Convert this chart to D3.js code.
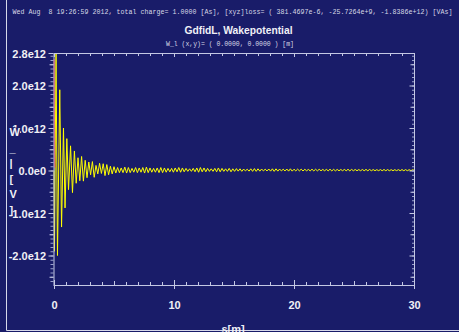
<!DOCTYPE html>
<html>
<head>
<meta charset="utf-8">
<script src="https://cdn.jsdelivr.net/npm/d3@7"></script>
<style>
  html, body { margin: 0; padding: 0; background: #191c69; }
  svg { display: block; }
  text { font-family: "Liberation Sans", Arial, sans-serif; }
  .mono { font-family: "Liberation Mono", "DejaVu Sans Mono", monospace; white-space: pre; }
</style>
</head>
<body>
<svg id="chart" width="459" height="332"></svg>
<script>
// ---- text ----
const headerText = "Wed Aug  8 19:26:59 2012, total charge= 1.0000 [As], [xyz]loss= ( 381.4697e-6, -25.7264e+9, -1.8386e+12) [VAs]";
const titleText = "GdfidL, Wakepotential";
const subtitleText = "W_l (x,y)= ( 0.0000, 0.0000 ) [m]";
const xTitle = "s[m]";
const yTitleChars = ["W", "_", "|", "[", "V", "]"];

// ---- axes (values in m and in 1e12 V) ----
const xDomain = [0, 30];
const yDomain = [-2.694, 2.765];
const xTickValues = [0, 10, 20, 30];
const xTickLabels = ["0", "10", "20", "30"];
const yTickValues = [2.765, 2, 1, 0, -1, -2];
const yTickLabels = ["2.8e12", "2.0e12", "1.0e12", "0.0e0", "-1.0e12", "-2.0e12"];

// ---- longitudinal wake potential W_l(s), 1e12 V ----
const wakeS = [
  0.00, 0.04, 0.17, 0.29, 0.48, 0.63, 0.79, 0.92, 1.07, 1.21, 1.38, 1.54, 1.70, 1.85,
  2.00, 2.15, 2.30, 2.45, 2.60, 2.75, 2.90, 3.05, 3.20, 3.35, 3.50, 3.65, 3.80, 3.95,
  4.10, 4.25, 4.40, 4.55, 4.70, 4.85, 5.00, 5.15, 5.30, 5.45, 5.60, 5.75, 5.90, 6.05,
  6.20, 6.35, 6.50, 6.65,
  6.80, 6.95, 7.10, 7.25, 7.40, 7.55, 7.70, 7.85, 8.00, 8.15, 8.30, 8.45, 8.60, 8.75,
  8.90, 9.05, 9.20, 9.35, 9.50, 9.65, 9.80, 9.95,
  10.10, 10.25, 10.40, 10.55, 10.70, 10.85, 11.00, 11.15, 11.30, 11.45, 11.60, 11.75,
  11.90, 12.05, 12.20, 12.35, 12.50, 12.65, 12.80, 12.95, 13.10, 13.25, 13.40, 13.55,
  13.70, 13.85, 14.00, 14.15, 14.30, 14.45, 14.60, 14.75,
  14.90, 15.05, 15.20, 15.35, 15.50, 15.65, 15.80, 15.95, 16.10, 16.25, 16.40, 16.55,
  16.70, 16.85, 17.00, 17.15, 17.30, 17.45, 17.60, 17.75, 17.90, 18.05, 18.20, 18.35,
  18.50, 18.65, 18.80, 18.95, 19.10, 19.25, 19.40, 19.55, 19.70, 19.85,
  20.00, 20.15, 20.30, 20.45, 20.60, 20.75, 20.90, 21.05, 21.20, 21.35, 21.50, 21.65,
  21.80, 21.95, 22.10, 22.25, 22.40, 22.55, 22.70, 22.85, 23.00, 23.15, 23.30, 23.45,
  23.60, 23.75, 23.90, 24.05, 24.20, 24.35, 24.50, 24.65, 24.80, 24.95, 25.10, 25.25,
  25.40, 25.55, 25.70, 25.85, 26.00, 26.15, 26.30, 26.45, 26.60, 26.75, 26.90, 27.05,
  27.20, 27.35, 27.50, 27.65, 27.80, 27.95, 28.10, 28.25, 28.40, 28.55, 28.70, 28.85,
  29.00, 29.15, 29.30, 29.45, 29.60, 29.75, 29.90, 30.00
];
const wakeW = [
  0.00, -1.90, 2.75, -2.00, 1.90, -1.33, 1.00, -0.88, 0.75, -0.45, 0.58, -0.52, 0.46, -0.30,
  0.30, -0.24, 0.33, -0.25, 0.24, -0.17, 0.20, -0.10, 0.21, -0.16, 0.12, -0.08, 0.17, -0.07,
  0.16, -0.12, 0.14, -0.10, 0.10, -0.08, 0.09, -0.06, 0.07, -0.05, 0.06, -0.05, 0.08, -0.06,
  0.07, -0.05, 0.05, -0.04,
  0.07, -0.05, 0.06, -0.04, 0.07, -0.06, 0.08, -0.05, 0.06, -0.04, 0.05, -0.04, 0.06, -0.05,
  0.07, -0.05, 0.06, -0.04, 0.05, -0.03, 0.05, -0.04,
  0.06, -0.03, 0.07, -0.04, 0.06, -0.03, 0.05, -0.02, 0.04, -0.02, 0.05, -0.03,
  0.06, -0.04, 0.07, -0.03, 0.06, -0.03, 0.05, -0.02, 0.04, -0.02, 0.05, -0.03,
  0.06, -0.03, 0.05, -0.02, 0.04, -0.02, 0.05, -0.03,
  0.040, -0.020, 0.045, -0.015, 0.040, -0.020, 0.035, -0.010, 0.030, -0.015, 0.040, -0.020,
  0.045, -0.020, 0.040, -0.015, 0.035, -0.010, 0.030, -0.010, 0.035, -0.015, 0.040, -0.020,
  0.040, -0.015, 0.035, -0.010, 0.030, -0.010, 0.035, -0.015, 0.040, -0.015,
  0.030, -0.010, 0.032, -0.008, 0.030, -0.010, 0.028, -0.006, 0.025, -0.008, 0.030, -0.010,
  0.030, -0.008, 0.028, -0.006, 0.025, -0.006, 0.027, -0.008, 0.030, -0.010, 0.028, -0.008,
  0.025, -0.006, 0.024, -0.005, 0.026, -0.007, 0.028, -0.008, 0.026, -0.006, 0.024, -0.005,
  0.022, -0.005, 0.024, -0.006, 0.026, -0.007, 0.025, -0.006, 0.022, -0.004, 0.020, -0.004,
  0.022, -0.005, 0.024, -0.006, 0.022, -0.005, 0.020, -0.004, 0.019, -0.003, 0.020, -0.004,
  0.022, -0.005, 0.021, -0.004, 0.019, -0.003, 0.020, 0.005
];

// ---- bunch charge profile (scaled onto the wake axis) ----
const bunchS = [0.02, 0.03, 0.045, 0.06];
const bunchW = [2.62, 1.80, 0.40, 0.07];

// ---- colours ----
const bgColor = "#191c69";
const axisColor = "#c4c8e4";
const textColor = "#f0f0f6";
const wakeColor = "#ffff00";
const bunchColor = "#e8202a";

const svg = d3.select("#chart");
svg.append("rect").attr("width", 459).attr("height", 332).attr("fill", bgColor);

const x = d3.scaleLinear().domain(xDomain).range([54, 414]);
const y = d3.scaleLinear().domain(yDomain).range([285, 53]);

// outer page frame (left and bottom edges visible)
svg.append("path")
  .attr("d", "M6.5,-2 V330.5 H470")
  .attr("fill", "none").attr("stroke", "#d6d8ea").attr("stroke-width", 1);

// header, title, subtitle
svg.append("text").attr("class", "mono")
  .attr("x", 12.5).attr("y", 13.5)
  .attr("font-size", 6.6).attr("fill", "#d8d8e6")
  .attr("textLength", 440).attr("lengthAdjust", "spacing")
  .text(headerText);
svg.append("text")
  .attr("x", 238.5).attr("y", 34).attr("text-anchor", "middle")
  .attr("font-size", 11.5).attr("font-weight", "bold").attr("fill", textColor)
  .attr("textLength", 108).attr("lengthAdjust", "spacingAndGlyphs")
  .text(titleText);
svg.append("text").attr("class", "mono")
  .attr("x", 166).attr("y", 45.5)
  .attr("font-size", 6.5).attr("fill", "#d8d8e6")
  .attr("textLength", 128).attr("lengthAdjust", "spacing")
  .text(subtitleText);

// curves (clipped to the plot box)
svg.append("clipPath").attr("id", "plotClip")
  .append("rect").attr("x", 53).attr("y", 53).attr("width", 362).attr("height", 233);
const plot = svg.append("g").attr("clip-path", "url(#plotClip)");

const wakeLine = d3.line().x(d => x(d[0])).y(d => y(d[1]));
plot.append("path")
  .datum(d3.zip(wakeS, wakeW))
  .attr("d", wakeLine)
  .attr("fill", "none").attr("stroke", wakeColor).attr("stroke-width", 1);

// ticks
const minorY = d3.range(-26, 28).map(i => i / 10).filter(v => v <= yDomain[1] && v >= yDomain[0]);
const halfY = [-2.5, -1.5, -0.5, 0.5, 1.5, 2.5];
const majorY = [-2, -1, 0, 1, 2, yDomain[1]];
const minorX = d3.range(0, 31);
const halfX = [5, 15, 25];
const majorX = [0, 10, 20, 30];

function yTicks(xPos, vals, len, color) {
  const ax = d3.axisLeft(y).tickValues(vals).tickSize(len).tickFormat("");
  svg.append("g").attr("transform", `translate(${xPos},0)`).call(ax)
    .call(g => g.select(".domain").remove())
    .call(g => g.selectAll("line").attr("stroke", color));
}
function xTicks(yPos, vals, len, dir, color) {
  const ax = (dir === "up" ? d3.axisBottom(x).tickSize(-len) : d3.axisTop(x).tickSize(-len));
  ax.tickValues(vals).tickFormat("");
  svg.append("g").attr("transform", `translate(0,${yPos})`).call(ax)
    .call(g => g.select(".domain").remove())
    .call(g => g.selectAll("line").attr("stroke", color));
}
// left axis, ticks outside
yTicks(53.5, minorY, 3, "#9aa0cc");
yTicks(53.5, halfY, 4, axisColor);
yTicks(53.5, majorY, 5, axisColor);
// right axis, ticks inside
yTicks(414.5, minorY, 2.5, "#9aa0cc");
yTicks(414.5, halfY, 4, axisColor);
yTicks(414.5, majorY, 5, axisColor);
// bottom axis, ticks point up; decade ticks also hang below
xTicks(285, minorX, 3, "up", axisColor);
xTicks(285, halfX, 4, "up", axisColor);
xTicks(285, majorX, 5, "up", axisColor);
svg.append("g").attr("transform", "translate(0,285)")
  .call(d3.axisBottom(x).tickValues(majorX).tickSize(4).tickFormat(""))
  .call(g => g.select(".domain").remove())
  .call(g => g.selectAll("line").attr("stroke", axisColor));
// top axis, ticks point down
xTicks(53, minorX, 3, "down", axisColor);
xTicks(53, majorX, 4, "down", axisColor);

// plot box
svg.append("rect")
  .attr("x", 54).attr("y", 53.5).attr("width", 360.5).attr("height", 232)
  .attr("fill", "none").attr("stroke", axisColor).attr("stroke-width", 1);

// bunch profile over the left edge
plot.append("path")
  .datum(d3.zip(bunchS, bunchW))
  .attr("d", wakeLine)
  .attr("fill", "none").attr("stroke", bunchColor).attr("stroke-width", 1.2);

// tick labels
svg.append("g").selectAll("text")
  .data(d3.zip(yTickValues, yTickLabels))
  .join("text")
  .attr("x", 46).attr("y", d => y(d[0]) + 4.5)
  .attr("text-anchor", "end").attr("font-size", 11).attr("font-weight", "bold").attr("fill", textColor)
  .text(d => d[1]);
svg.append("g").selectAll("text")
  .data(d3.zip(xTickValues, xTickLabels))
  .join("text")
  .attr("x", d => x(d[0]) + 0.5).attr("y", 308.5)
  .attr("text-anchor", "middle").attr("font-size", 11).attr("font-weight", "bold").attr("fill", textColor)
  .text(d => d[1]);

// axis titles
svg.append("text")
  .attr("x", 233).attr("y", 333).attr("text-anchor", "middle")
  .attr("font-size", 11).attr("font-weight", "bold").attr("fill", textColor)
  .text(xTitle);
const yTitle = svg.append("g");
yTitleChars.forEach((ch, i) => {
  const yy = 136 + i * 15.6;
  if (i === 0) {
    // the first letter is written on an opaque cell
    yTitle.append("rect").attr("x", 9.5).attr("y", yy - 8.5)
      .attr("width", 10.5).attr("height", 10).attr("fill", bgColor);
  }
  yTitle.append("text")
    .attr("x", 9.5).attr("y", yy)
    .attr("font-size", 11).attr("font-weight", "bold").attr("fill", textColor)
    .text(ch);
});
</script>
</body>
</html>
